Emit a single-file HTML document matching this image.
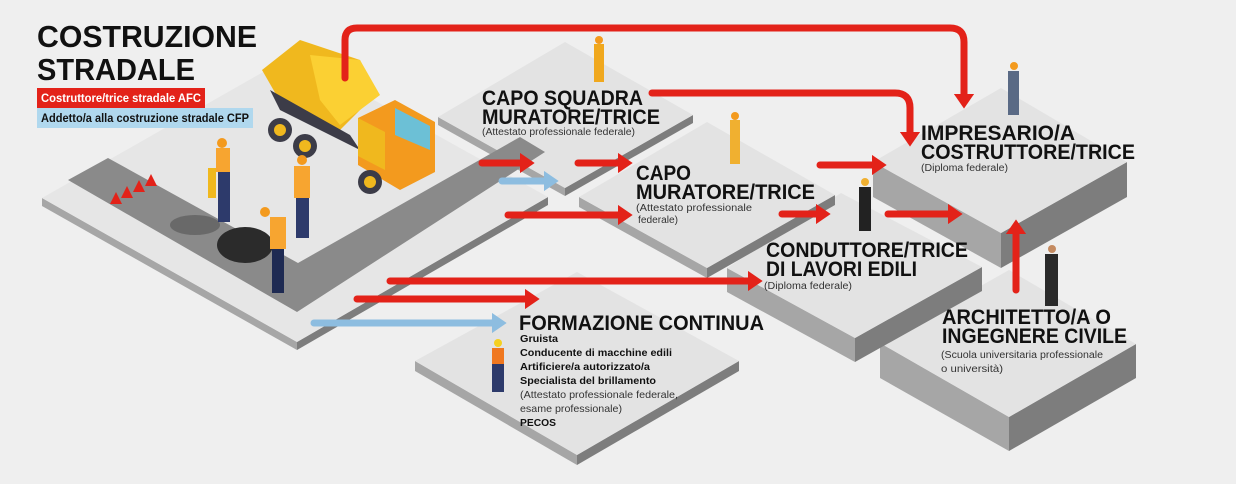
<!DOCTYPE html>
<html><head><meta charset="utf-8"><style>
html,body{margin:0;padding:0;background:#efefef}
svg{display:block}
.h{font-family:"Liberation Sans",sans-serif;font-weight:bold;fill:#111}
.s{font-family:"Liberation Sans",sans-serif;fill:#333}
</style></head><body>
<svg width="1236" height="484" viewBox="0 0 1236 484" xmlns="http://www.w3.org/2000/svg">
<rect width="1236" height="484" fill="#efefef"/>
<defs>
<marker id="ar" markerWidth="2.1" markerHeight="2.9" refX="0.3" refY="1.45" orient="auto" markerUnits="strokeWidth"><path d="M0,0 L2.1,1.45 L0,2.9 Z" fill="#e32219"/></marker>
<marker id="ab" markerWidth="2.1" markerHeight="2.9" refX="0.3" refY="1.45" orient="auto" markerUnits="strokeWidth"><path d="M0,0 L2.1,1.45 L0,2.9 Z" fill="#8dbde0"/></marker>
</defs>

<!-- Architetto platform -->
<polygon points="880,343 1009,417 1009,451 880,378" fill="#a6a6a6"/>
<polygon points="1009,417 1136,344 1136,378 1009,451" fill="#7d7d7d"/>
<polygon points="1009,270 1136,344 1009,417 880,343" fill="#e3e3e3"/>
<!-- Impresario platform -->
<polygon points="873,162 1001,233 1001,268 873,197" fill="#a6a6a6"/>
<polygon points="1001,233 1127,162 1127,197 1001,268" fill="#7d7d7d"/>
<polygon points="1001,88 1127,162 1001,233 873,162" fill="#e3e3e3"/>
<!-- Formazione platform -->
<polygon points="415,361 577,455 577,465 415,371" fill="#a6a6a6"/>
<polygon points="577,455 739,361 739,371 577,465" fill="#7d7d7d"/>
<polygon points="577,272 739,361 577,455 415,361" fill="#e3e3e3"/>
<!-- Conduttore platform -->
<polygon points="727,268 855,338 855,362 727,292" fill="#a6a6a6"/>
<polygon points="855,338 982,267 982,291 855,362" fill="#7d7d7d"/>
<polygon points="841,193 982,267 855,338 727,268" fill="#e3e3e3"/>
<!-- Capo muratore platform -->
<polygon points="579,197 707,268 707,278 579,207" fill="#a6a6a6"/>
<polygon points="707,268 835,195 835,205 707,278" fill="#7d7d7d"/>
<polygon points="707,122 835,195 707,268 579,197" fill="#e3e3e3"/>
<!-- Capo squadra platform -->
<polygon points="438,117 565,188 565,196 438,125" fill="#a6a6a6"/>
<polygon points="565,188 693,115 693,123 565,196" fill="#7d7d7d"/>
<polygon points="565,42 693,115 565,188 438,117" fill="#e3e3e3"/>
<!-- Main platform -->
<polygon points="42,198 297,342 297,350 42,206" fill="#a6a6a6"/>
<polygon points="297,342 548,197 548,205 297,350" fill="#7d7d7d"/>
<polygon points="293,55 548,197 297,342 42,198" fill="#e6e6e6"/>
<!-- road -->
<polygon points="68,180 108,158 298,263 520,137 545,152 297,312" fill="#8a8a8a"/>
<!-- cones -->
<g fill="#e32219"><polygon points="110,204 116,192 122,204"/><polygon points="121,198 127,186 133,198"/><polygon points="133,192 139,180 145,192"/><polygon points="145,186 151,174 157,186"/></g>
<!-- asphalt pile -->
<ellipse cx="245" cy="245" rx="28" ry="18" fill="#2b2b2b"/>
<ellipse cx="195" cy="225" rx="25" ry="10" fill="#2b2b2b" opacity=".35"/>

<!-- truck -->
<g>
<polygon points="262,70 300,40 360,60 375,95 340,130 285,110" fill="#f0b81e"/>
<polygon points="310,55 360,60 380,95 340,125 320,100" fill="#fbd033"/>
<polygon points="270,90 350,135 360,150 280,110" fill="#3c3c48"/>
<polygon points="358,118 395,100 435,122 435,172 400,190 358,165" fill="#f39a1e"/>
<polygon points="395,108 430,126 430,150 395,135" fill="#6cc0d6"/>
<polygon points="358,118 385,132 385,170 358,156" fill="#f0b81e"/>
<circle cx="280" cy="130" r="12" fill="#3c3c48"/><circle cx="280" cy="130" r="6" fill="#f0b81e"/>
<circle cx="305" cy="146" r="12" fill="#3c3c48"/><circle cx="305" cy="146" r="6" fill="#f0b81e"/>
<circle cx="370" cy="182" r="12" fill="#3c3c48"/><circle cx="370" cy="182" r="6" fill="#f0b81e"/>
</g>
<!-- workers -->
<g>
<circle cx="222" cy="143" r="5" fill="#f39a1e"/><rect x="216" y="148" width="14" height="24" fill="#f7a530"/><rect x="218" y="172" width="12" height="50" fill="#2d3a6b"/>
<rect x="208" y="168" width="8" height="30" fill="#f0b81e"/>
<circle cx="302" cy="160" r="5" fill="#f39a1e"/><rect x="294" y="166" width="16" height="32" fill="#f7a530"/><rect x="296" y="198" width="13" height="40" fill="#2d3a6b"/>
<circle cx="265" cy="212" r="5" fill="#f39a1e"/><rect x="270" y="217" width="16" height="32" fill="#f7a530"/><rect x="272" y="249" width="12" height="44" fill="#1e2a52"/>
<circle cx="599" cy="40" r="4" fill="#f39a1e"/><rect x="594" y="44" width="10" height="38" fill="#f0a81e"/>
<circle cx="735" cy="116" r="4" fill="#f39a1e"/><rect x="730" y="120" width="10" height="44" fill="#f0b030"/>
<circle cx="865" cy="182" r="4" fill="#f0b030"/><rect x="859" y="187" width="12" height="44" fill="#222"/>
<circle cx="1014" cy="66" r="4" fill="#f39a1e"/><rect x="1008" y="71" width="11" height="44" fill="#5a6a85"/>
<circle cx="1052" cy="249" r="4" fill="#c48a60"/><rect x="1045" y="254" width="13" height="52" fill="#2a2a2a"/>
<circle cx="498" cy="343" r="4" fill="#f5d020"/><rect x="492" y="348" width="12" height="44" fill="#2d3a6b"/><rect x="492" y="348" width="12" height="16" fill="#f07820"/>
</g>

<!-- arrows -->
<g fill="none" stroke="#e32219" stroke-width="7" stroke-linecap="round">
<path d="M345,78 V40 Q345,28 357,28 H950 Q964,28 964,42 V96" marker-end="url(#ar)"/>
<path d="M652,93 H895 Q910,93 910,108 V134" marker-end="url(#ar)"/>
<path d="M482,163 H522" marker-end="url(#ar)"/>
<path d="M578,163 H620" marker-end="url(#ar)"/>
<path d="M508,215 H620" marker-end="url(#ar)"/>
<path d="M820,165 H874" marker-end="url(#ar)"/>
<path d="M782,214 H818" marker-end="url(#ar)"/>
<path d="M888,214 H950" marker-end="url(#ar)"/>
<path d="M390,281 H750" marker-end="url(#ar)"/>
<path d="M357,299 H527" marker-end="url(#ar)"/>
<path d="M1016,290 V232" marker-end="url(#ar)"/>
</g>
<g fill="none" stroke="#8dbde0" stroke-width="7" stroke-linecap="round">
<path d="M502,181 H546" marker-end="url(#ab)"/>
<path d="M314,323 H494" marker-end="url(#ab)"/>
</g>

<!-- title -->
<text class="h" x="37" y="47" font-size="31" textLength="220" lengthAdjust="spacingAndGlyphs">COSTRUZIONE</text>
<text class="h" x="37" y="80" font-size="31" textLength="158" lengthAdjust="spacingAndGlyphs">STRADALE</text>
<rect x="37" y="88" width="168" height="20" fill="#e32219"/>
<text x="41" y="102" font-family="Liberation Sans,sans-serif" font-weight="bold" font-size="11.5" fill="#fff" textLength="160" lengthAdjust="spacingAndGlyphs">Costruttore/trice stradale AFC</text>
<rect x="37" y="108" width="216" height="20" fill="#b0d8ee"/>
<text x="41" y="122" font-family="Liberation Sans,sans-serif" font-weight="bold" font-size="11.5" fill="#111" textLength="208" lengthAdjust="spacingAndGlyphs">Addetto/a alla costruzione stradale CFP</text>

<!-- labels -->
<text class="h" x="482" y="105" font-size="21" textLength="161" lengthAdjust="spacingAndGlyphs">CAPO SQUADRA</text>
<text class="h" x="482" y="124" font-size="21" textLength="178" lengthAdjust="spacingAndGlyphs">MURATORE/TRICE</text>
<text class="s" x="482" y="135" font-size="10" textLength="153" lengthAdjust="spacingAndGlyphs">(Attestato professionale federale)</text>

<text class="h" x="636" y="180" font-size="21" textLength="55" lengthAdjust="spacingAndGlyphs">CAPO</text>
<text class="h" x="636" y="199" font-size="21" textLength="179" lengthAdjust="spacingAndGlyphs">MURATORE/TRICE</text>
<text class="s" x="636" y="211" font-size="10" textLength="116" lengthAdjust="spacingAndGlyphs">(Attestato professionale</text>
<text class="s" x="638" y="223" font-size="10" textLength="40" lengthAdjust="spacingAndGlyphs">federale)</text>

<text class="h" x="921" y="140" font-size="21" textLength="154" lengthAdjust="spacingAndGlyphs">IMPRESARIO/A</text>
<text class="h" x="921" y="159" font-size="21" textLength="214" lengthAdjust="spacingAndGlyphs">COSTRUTTORE/TRICE</text>
<text class="s" x="921" y="171" font-size="10" textLength="87" lengthAdjust="spacingAndGlyphs">(Diploma federale)</text>

<text class="h" x="766" y="257" font-size="21" textLength="202" lengthAdjust="spacingAndGlyphs">CONDUTTORE/TRICE</text>
<text class="h" x="766" y="276" font-size="21" textLength="151" lengthAdjust="spacingAndGlyphs">DI LAVORI EDILI</text>
<text class="s" x="764" y="289" font-size="10" textLength="88" lengthAdjust="spacingAndGlyphs">(Diploma federale)</text>

<text class="h" x="942" y="324" font-size="21" textLength="169" lengthAdjust="spacingAndGlyphs">ARCHITETTO/A O</text>
<text class="h" x="942" y="343" font-size="21" textLength="185" lengthAdjust="spacingAndGlyphs">INGEGNERE CIVILE</text>
<text class="s" x="941" y="358" font-size="10" textLength="162" lengthAdjust="spacingAndGlyphs">(Scuola universitaria professionale</text>
<text class="s" x="941" y="372" font-size="10" textLength="62" lengthAdjust="spacingAndGlyphs">o università)</text>

<text class="h" x="519" y="330" font-size="21" textLength="245" lengthAdjust="spacingAndGlyphs">FORMAZIONE CONTINUA</text>
<g font-family="Liberation Sans,sans-serif" font-size="10.5" fill="#111">
<text x="520" y="342" font-weight="bold" textLength="38" lengthAdjust="spacingAndGlyphs">Gruista</text>
<text x="520" y="356" font-weight="bold" textLength="152" lengthAdjust="spacingAndGlyphs">Conducente di macchine edili</text>
<text x="520" y="370" font-weight="bold" textLength="130" lengthAdjust="spacingAndGlyphs">Artificiere/a autorizzato/a</text>
<text x="520" y="384" font-weight="bold" textLength="136" lengthAdjust="spacingAndGlyphs">Specialista del brillamento</text>
<text x="520" y="398" fill="#333" textLength="158" lengthAdjust="spacingAndGlyphs">(Attestato professionale federale,</text>
<text x="520" y="412" fill="#333" textLength="102" lengthAdjust="spacingAndGlyphs">esame professionale)</text>
<text x="520" y="426" font-weight="bold" textLength="36" lengthAdjust="spacingAndGlyphs">PECOS</text>
</g>
</svg>
</body></html>
